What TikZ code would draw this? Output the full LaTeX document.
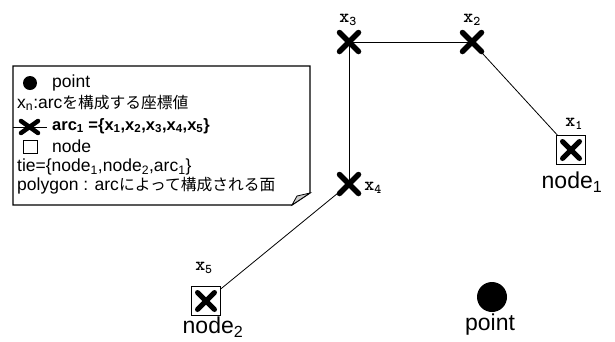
\documentclass[tikz,border=0pt]{standalone}
\usepackage{fontspec}
\setmainfont{Liberation Sans}
\newfontfamily\jp[Scale=0.9]{Noto Sans CJK JP}
\newcommand{\sub}[1]{\textsubscript{#1}}
\tikzset{
  xcross/.style={minimum size=27pt, inner sep=0pt,
    path picture={
      \draw[line width=5.5pt,line cap=round]
        ([shift={(4pt,-4pt)}]path picture bounding box.north west) --
        ([shift={(-4pt,4pt)}]path picture bounding box.south east);
      \draw[line width=5.5pt,line cap=round]
        ([shift={(-4pt,-4pt)}]path picture bounding box.north east) --
        ([shift={(4pt,4pt)}]path picture bounding box.south west);
    }},
  xbox/.style={draw, line width=1pt, minimum size=29pt, inner sep=0pt, fill=white,
    path picture={
      \draw[line width=5pt,line cap=round]
        ([shift={(6pt,-6pt)}]path picture bounding box.north west) --
        ([shift={(-6pt,6pt)}]path picture bounding box.south east);
      \draw[line width=5pt,line cap=round]
        ([shift={(-6pt,-6pt)}]path picture bounding box.north east) --
        ([shift={(6pt,6pt)}]path picture bounding box.south west);
    }},
  xlab/.style={font=\ttfamily\bfseries\fontsize{19}{21}\selectfont, inner sep=0pt},
  biglab/.style={font=\fontsize{23}{25}\selectfont, inner sep=0pt},
  legtext/.style={font=\fontsize{17.5}{19}\selectfont, inner sep=0pt, anchor=west},
  conn/.style={line width=0.8pt},
}
\begin{document}
\begin{tikzpicture}[x=1pt,y=-1pt]
\useasboundingbox (0,0) rectangle (615,341);
% legend box
\draw[line width=1.1pt] (13,66) -- (310,66) -- (310,193) -- (292,205) -- (13,205) -- cycle;
\filldraw[fill=black!20, line width=0.8pt] (292,205) -- (297,196) -- (310,193) -- cycle;
% legend items
\fill (30,83) circle (7);
\node[legtext] (lp) at (52,83) {point};
\node[legtext] (lx) at (17,103) {x\sub{n}:arc{\jp を構成する座標値}};
\draw[conn] (13,127) -- (47,127);
\draw[line width=4.5pt, line cap=round] (21,121) -- (38,133) (21,133) -- (38,121);
\node[legtext, font=\bfseries\fontsize{16.5}{18}\selectfont] (la) at (52,126) {arc\sub{1} =\{x\sub{1},x\sub{2},x\sub{3},x\sub{4},x\sub{5}\}};
\draw[line width=0.8pt] (23,140) rectangle (37,153);
\node[legtext] (ln) at (52,146) {node};
\node[legtext] (lt) at (17,167) {tie=\{node\sub{1},node\sub{2},arc\sub{1}\}};
\node[legtext] (lpg) at (17,186) {polygon : arc{\jp によって構成される面}};
% main nodes
\node[xcross] (x3) at (349,42) {};
\node[xcross] (x2) at (472,42) {};
\node[xcross] (x4) at (349,184) {};
\node[xbox] (n1) at (571,150) {};
\node[xbox] (n2) at (206,301) {};
\fill (492,297) circle (15);
\coordinate (pt) at (492,297);
% connectors
\draw[conn] (x3.center) -- (x2.center);
\draw[conn] (x2.center) -- (n1);
\draw[conn] (x3.center) -- (x4.center);
\draw[conn] (x4.center) -- (n2);
% labels
\node[xlab] (l3) at (348,20) {x\sub{3}};
\node[xlab] (l2) at (472,20) {x\sub{2}};
\node[xlab] (l1) at (574,124) {x\sub{1}};
\node[xlab] (l4) at (373,188) {x\sub{4}};
\node[xlab] (l5) at (204,268) {x\sub{5}};
\node[biglab] (nl1) at (572,182) {node\sub{1}};
\node[biglab] (nl2) at (213,327) {node\sub{2}};
\node[biglab] (pl) at (490,325) {point};
\end{tikzpicture}
\end{document}
